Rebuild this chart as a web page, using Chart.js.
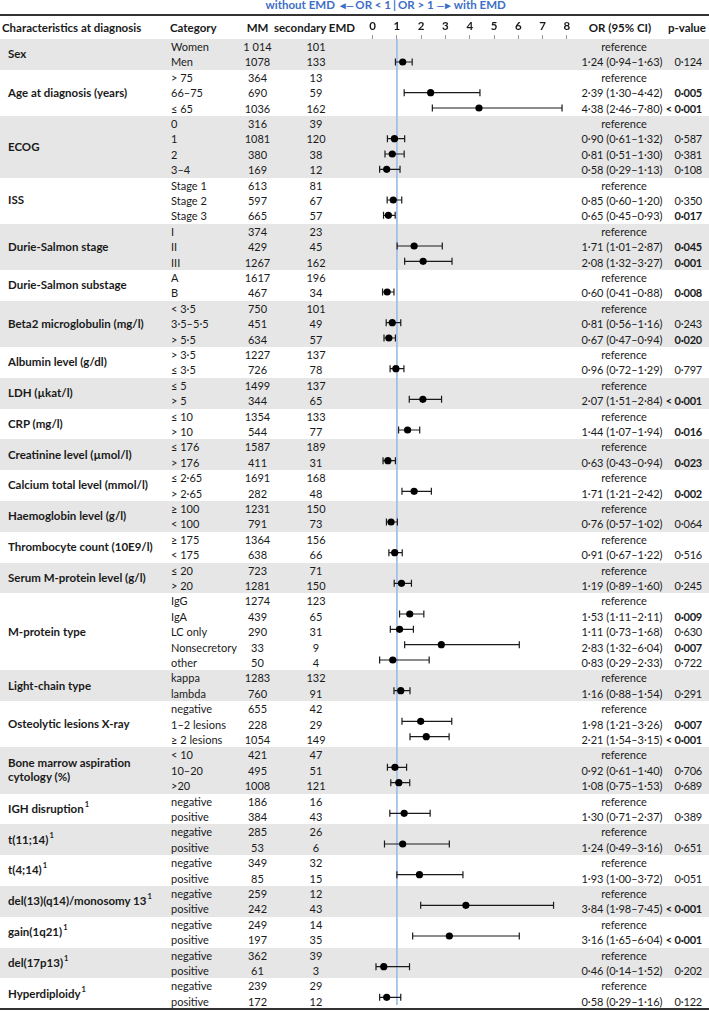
<!DOCTYPE html>
<html><head><meta charset="utf-8">
<script src="https://cdn.jsdelivr.net/npm/chart.js@4"></script>
<style>
html,body{margin:0;padding:0;background:#fff;}
#page{position:relative;width:709px;height:1011px;overflow:hidden;font-family:Lato,'Noto Sans',sans-serif;font-size:11px;color:#1a1a1a;}
.t{position:absolute;white-space:nowrap;line-height:15.4px;height:15.4px;z-index:1;}
.c{text-align:center;width:200px;}
.r{text-align:right;width:200px;}
.b{font-weight:bold;}
.h{font-size:11.5px;}
.pv{letter-spacing:-0.2px;}
.band{position:absolute;left:0;width:709px;background:#e6e6e6;z-index:0;}
.hr{position:absolute;left:0;width:709px;background:#333;z-index:3;}
.grp{position:absolute;left:8px;display:flex;align-items:center;font-weight:bold;font-size:11.5px;white-space:pre-line;line-height:14.5px;z-index:1;}
.sp{font-size:7.5px;position:relative;top:-4px;margin-left:1px;}
#cv{position:absolute;left:340px;top:16px;z-index:2;}
.ttl{position:absolute;top:-2px;line-height:14px;color:#3c6ec8;font-weight:bold;white-space:nowrap;font-size:11.5px;}
.ar{font-size:10px;letter-spacing:-1.5px;}
</style></head><body><div id="page"><canvas id="cv" width="260" height="993"></canvas></div>
<script>
const groupLabels = ["Sex","Age at diagnosis (years)","ECOG","ISS","Durie-Salmon stage","Durie-Salmon substage","Beta2 microglobulin (mg/l)","Albumin level (g/dl)","LDH (µkat/l)","CRP (mg/l)","Creatinine level (µmol/l)","Calcium total level (mmol/l)","Haemoglobin level (g/l)","Thrombocyte count (10E9/l)","Serum M-protein level (g/l)","M-protein type","Light-chain type","Osteolytic lesions X-ray","Bone marrow aspiration\ncytology (%)","IGH disruption¹","t(11;14)¹","t(4;14)¹","del(13)(q14)/monosomy 13¹","gain(1q21)¹","del(17p13)¹","Hyperdiploidy¹"];
const groupSizes = [2,3,4,3,3,2,3,2,2,2,2,2,2,2,2,5,2,3,3,2,2,2,2,2,2,2];
const categories = ["Women","Men","> 75","66–75","≤ 65","0","1","2","3–4","Stage 1","Stage 2","Stage 3","I","II","III","A","B","< 3·5","3·5–5·5","> 5·5","> 3·5","≤ 3·5","≤ 5","> 5","≤ 10","> 10","≤ 176","> 176","≤ 2·65","> 2·65","≥ 100","< 100","≥ 175","< 175","≤ 20","> 20","IgG","IgA","LC only","Nonsecretory","other","kappa","lambda","negative","1–2 lesions","≥ 2 lesions","< 10","10–20",">20","negative","positive","negative","positive","negative","positive","negative","positive","negative","positive","negative","positive","negative","positive"];
const mmCounts = ["1 014","1078","364","690","1036","316","1081","380","169","613","597","665","374","429","1267","1617","467","750","451","634","1227","726","1499","344","1354","544","1587","411","1691","282","1231","791","1364","638","723","1281","1274","439","290","33","50","1283","760","655","228","1054","421","495","1008","186","384","285","53","349","85","259","242","249","197","362","61","239","172"];
const emdCounts = [101,133,13,59,162,39,120,38,12,81,67,57,23,45,162,196,34,101,49,57,137,78,137,65,133,77,189,31,168,48,150,73,156,66,71,150,123,65,31,9,4,132,91,42,29,149,47,51,121,16,43,26,6,32,15,12,43,14,35,39,3,29,12];
const orValues = [null,1.24, null,2.39,4.38, null,0.90,0.81,0.58, null,0.85,0.65, null,1.71,2.08, null,0.60, null,0.81,0.67, null,0.96, null,2.07, null,1.44, null,0.63, null,1.71, null,0.76, null,0.91, null,1.19, null,1.53,1.11,2.83,0.83, null,1.16, null,1.98,2.21, null,0.92,1.08, null,1.30, null,1.24, null,1.93, null,3.84, null,3.16, null,0.46, null,0.58];
const ciLow = [null,0.94, null,1.30,2.46, null,0.61,0.51,0.29, null,0.60,0.45, null,1.01,1.32, null,0.41, null,0.56,0.47, null,0.72, null,1.51, null,1.07, null,0.43, null,1.21, null,0.57, null,0.67, null,0.89, null,1.11,0.73,1.32,0.29, null,0.88, null,1.21,1.54, null,0.61,0.75, null,0.71, null,0.49, null,1.00, null,1.98, null,1.65, null,0.14, null,0.29];
const ciHigh = [null,1.63, null,4.42,7.80, null,1.32,1.30,1.13, null,1.20,0.93, null,2.87,3.27, null,0.88, null,1.16,0.94, null,1.29, null,2.84, null,1.94, null,0.94, null,2.42, null,1.02, null,1.22, null,1.60, null,2.11,1.68,6.04,2.33, null,1.54, null,3.26,3.15, null,1.40,1.53, null,2.37, null,3.16, null,3.72, null,7.45, null,6.04, null,1.52, null,1.16];
const pValues = ["","0·124","","0·005","< 0·001","","0·587","0·381","0·108","","0·350","0·017","","0·045","0·001","","0·008","","0·243","0·020","","0·797","","< 0·001","","0·016","","0·023","","0·002","","0·064","","0·516","","0·245","","0·009","0·630","0·007","0·722","","0·291","","0·007","< 0·001","","0·706","0·689","","0·389","","0·651","","0·051","","< 0·001","","< 0·001","","0·202","","0·122"];
const xTicks = [0,1,2,3,4,5,6,7,8];
const refOR = 1;

const ROW_H = 15.4, TOP0 = 39;
const page = document.getElementById('page');
function add(cls, html, style){ const d=document.createElement('div'); d.className=cls; d.innerHTML=html; Object.assign(d.style, style); page.appendChild(d); return d; }
const fmt = v => v.toFixed(2).replace('.', '·');
const sup = s => s.replace('¹','<span class="sp">1</span>');

// title
add('ttl','without EMD <span class="ar">◄—</span> OR &lt; 1',{right:(709-391)+'px'});
add('ttl','|',{left:'393px'});
add('ttl','OR &gt; 1 <span class="ar">—►</span> with EMD',{left:'398px'});
// lines
add('hr','',{top:'14px',height:'2px'});
add('hr','',{top:(TOP0+categories.length*ROW_H-1.5)+'px',height:'2px'});
// header
const HY = 19.5;
add('t b h','Characteristics at diagnosis',{left:'2px',top:HY+'px'});
add('t b h','Category',{left:'170px',top:HY+'px'});
add('t c b h','MM',{left:(257.5-100)+'px',top:HY+'px'});
add('t c b h','secondary EMD',{left:(314.5-100)+'px',top:HY+'px'});
add('t c b h','OR (95% CI)',{left:(620-100)+'px',top:HY+'px'});
add('t r b h','p-value',{left:(706-200)+'px',top:HY+'px'});

// groups & bands
let start = 0;
groupLabels.forEach((g, gi) => {
  const n = groupSizes[gi];
  const top = TOP0 + start*ROW_H, h = n*ROW_H;
  if (gi % 2 === 0) add('band','',{top:top+'px',height:h+'px'});
  add('grp', sup(g), {top:top+'px',height:h+'px'});
  start += n;
});
// rows
categories.forEach((cat, i) => {
  const top = (TOP0 + i*ROW_H) + 'px';
  add('t', cat, {left:'171px', top});
  add('t c', mmCounts[i], {left:(257.5-100)+'px', top});
  add('t c', String(emdCounts[i]), {left:(316-100)+'px', top});
  if (orValues[i]==null) add('t c', 'reference', {left:(624-100)+'px', top});
  else add('t r', fmt(orValues[i])+' ('+fmt(ciLow[i])+'–'+fmt(ciHigh[i])+')', {left:(662.5-200)+'px', top});
  const p = pValues[i];
  if (p) {
    const bold = p.startsWith('<') || parseFloat(p.replace('·','.')) < 0.05;
    add('t r pv'+(bold?' b':''), p.replace('<','&lt;'), {left:(702-200)+'px', top});
  }
});

// chart
const xMin = -1.177, xMax = 9.198;
const points = [];
orValues.forEach((v,i)=>{ if(v!=null) points.push({x:v, y:i}); });
const errorBars = {
  id:'errorBars',
  afterDatasetDraw(chart, args){
    if (args.index !== 0) return;
    const {ctx, scales:{x, y}} = chart;
    ctx.save(); ctx.strokeStyle='#1a1a1a'; ctx.lineWidth=1.2;
    orValues.forEach((v,i)=>{
      if (v==null) return;
      const yp = y.getPixelForValue(i), x1 = x.getPixelForValue(ciLow[i]), x2 = x.getPixelForValue(ciHigh[i]);
      ctx.beginPath();
      ctx.moveTo(x1,yp); ctx.lineTo(x2,yp);
      ctx.moveTo(x1,yp-3.5); ctx.lineTo(x1,yp+3.5);
      ctx.moveTo(x2,yp-3.5); ctx.lineTo(x2,yp+3.5);
      ctx.stroke();
    });
    ctx.restore();
  }
};
new Chart(document.getElementById('cv'), {
  type:'scatter',
  data:{ datasets:[
    { type:'line', data:[{x:refOR,y:-0.5},{x:refOR,y:categories.length-0.5}], borderColor:'#9dbde8', borderWidth:1, pointRadius:0, order:2 },
    { type:'scatter', data:points, backgroundColor:'#000', borderColor:'#000', pointRadius:3.6, borderWidth:0, order:1 }
  ]},
  options:{
    responsive:false, animation:false, events:[],
    layout:{padding:0},
    plugins:{legend:{display:false}, tooltip:{enabled:false}},
    scales:{
      x:{ type:'linear', position:'top', min:xMin, max:xMax,
        afterBuildTicks: s => { s.ticks = xTicks.map(v=>({value:v})); },
        afterFit: s => { s.height = 23; s.paddingLeft = 0; s.paddingRight = 0; },
        ticks:{ font:{family:'Lato', size:11.5, weight:'bold'}, color:'#1a1a1a', padding:2, maxRotation:0, autoSkip:false },
        grid:{ drawOnChartArea:false, drawTicks:true, tickLength:4, color:'#9a9a9a' },
        border:{ display:false }
      },
      y:{ type:'linear', display:false, reverse:true, min:-0.5, max:categories.length-0.5 }
    }
  },
  plugins:[errorBars]
});
</script></body></html>
